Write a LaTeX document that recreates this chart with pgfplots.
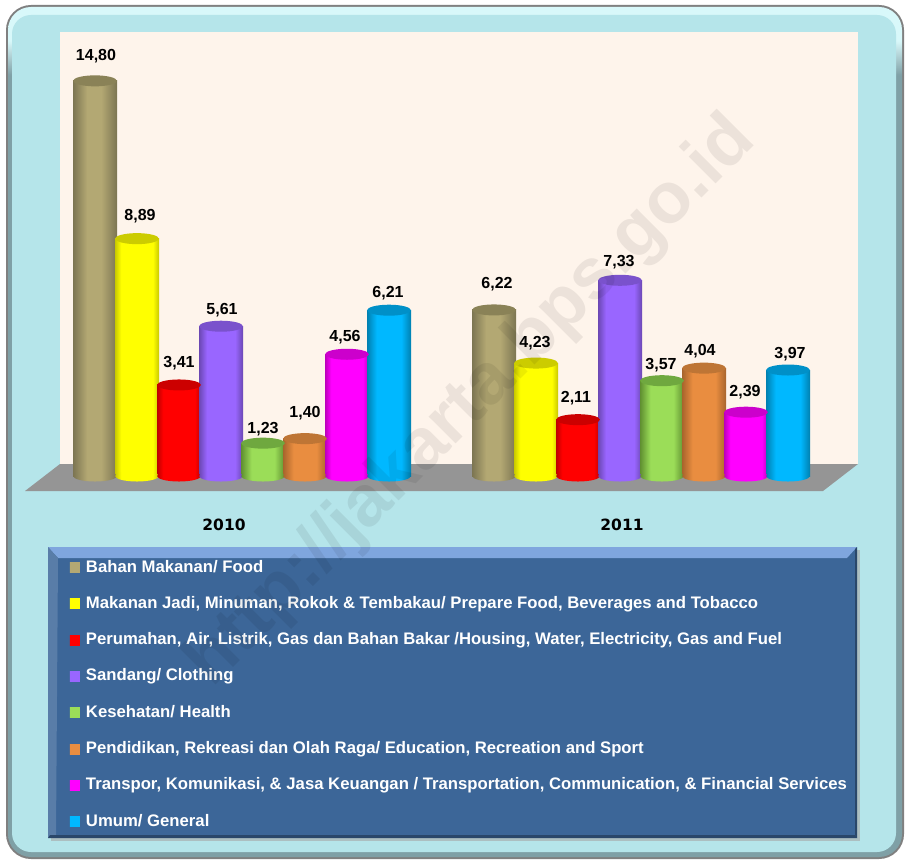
\documentclass[border=0pt]{standalone}
\usepackage{pgfplots}
\pgfplotsset{compat=1.18}
\usepackage{pgfplotstable}
\usepackage{fontspec}
\setmainfont{Liberation Sans}
\newfontfamily\tickfont{DejaVu Sans}
\pgfplotstableread{
x y b dy dx
95 14.80 0 24.8 1
494 6.22 0 26 3
}\tabA
\pgfplotstableread{
x y b dy dx
137 8.89 0 22.6 3
536 4.23 0 20 -1
}\tabB
\pgfplotstableread{
x y b dy dx
179 3.41 0 22 0
578 2.11 0 22 -2
}\tabC
\pgfplotstableread{
x y b dy dx
221 5.61 0 16 1
620 7.33 0 18 -1
}\tabD
\pgfplotstableread{
x y b dy dx
263 1.23 0 14 0
662 3.57 0 16 -1
}\tabE
\pgfplotstableread{
x y b dy dx
305 1.40 0 25.6 0
704 4.04 0 17 -4
}\tabF
\pgfplotstableread{
x y b dy dx
347 4.56 0 17 -2
746 2.39 0 20 -1
}\tabG
\pgfplotstableread{
x y b dy dx
389 6.21 0 17 -1
788 3.97 0 16 2
}\tabH
\newcommand{\defcyl}[6]{%
  \definecolor{cm#1}{HTML}{#2}\definecolor{cd#1}{HTML}{#3}\definecolor{ct#1}{HTML}{#4}%
  \pgfdeclarehorizontalshading{cyl#1}{100bp}{color(0bp)=(cd#1); color(25bp)=(cd#1); color(#5bp)=(cm#1); color(#6bp)=(cm#1); color(75bp)=(cd#1); color(100bp)=(cd#1)}%
  \pgfdeclarehorizontalshading{flat#1}{100bp}{color(0bp)=(cm#1); color(100bp)=(cm#1)}%
  \pgfdeclareplotmark{top#1}{\path[draw=none,fill=ct#1,rotate=4.5] (0pt,0pt) ellipse [x radius=21.9pt,y radius=5.5pt];}%
  \pgfdeclareplotmark{bot#1}{\path[draw=none,shading=cyl#1,rotate=4.5] (0pt,0pt) ellipse [x radius=21.9pt,y radius=5.5pt];}%
}
\defcyl{A}{B3A873}{7C7552}{8A8257}{41}{57}
\defcyl{B}{FFFF00}{C8C800}{CCCC00}{32}{68}
\defcyl{C}{FF0000}{BE0000}{CC0000}{32}{68}
\defcyl{D}{9966FF}{6B47B3}{7A52CC}{34}{66}
\defcyl{E}{9BDD58}{5F8F30}{6FA83F}{37}{63}
\defcyl{F}{E98D40}{A8642C}{BE7535}{37}{63}
\defcyl{G}{FF00FF}{BB00BB}{CC00CC}{32}{68}
\defcyl{H}{00B8FF}{0080B0}{0090C8}{36}{64}
\definecolor{bevd}{HTML}{7FA0A6}
\definecolor{bevl}{HTML}{D8F8FA}
\pgfdeclareverticalshading{bevel}{100bp}{color(0bp)=(bevd); color(71bp)=(bevd); color(73bp)=(bevl); color(100bp)=(bevl)}
\definecolor{panel}{HTML}{B5E5EA}
\definecolor{wall}{HTML}{FEF4EB}
\definecolor{floorc}{HTML}{959595}
\definecolor{lg}{HTML}{3C6698}
\definecolor{lgt}{HTML}{7FA6DE}
\newcommand{\cyl}[3]{%
  \addplot[forget plot,only marks,mark=bot#1] table[x=x,y=b] {#2};
  \addplot[ybar,bar width=44pt,bar shift=0pt,draw=none,shade,shading=cyl#1,restrict x to domain=0:440,
    legend image code/.code={\path[shading=flat#1] (0pt,-5pt) rectangle (10pt,5pt); \path (16pt,0pt);}] table[x=x,y=y] {#2};
  \addlegendentry{#3}
  \addplot[forget plot,ybar,bar width=44pt,bar shift=0pt,draw=none,shade,shading=cyl#1,restrict x to domain=440:905] table[x=x,y=y] {#2};
  \addplot[forget plot,only marks,mark=top#1,
    visualization depends on={\thisrow{dy}\as\dyv},
    visualization depends on={\thisrow{dx}\as\dxv},
    nodes near coords={\pgfmathprintnumber[use comma,fixed,fixed zerofill,precision=2,assume math mode=true]{\pgfplotspointmeta}},
    every node near coord/.style={anchor=center,inner sep=0pt,text=black,font=\fontsize{16}{18}\selectfont\bfseries,xshift=\dxv pt,yshift=\dyv pt}]
    table[x=x,y=y] {#2};
}
\begin{document}
\begin{tikzpicture}
\path[use as bounding box] (0pt,0pt) rectangle (905pt,-861pt);
\begin{scope}[x=1pt,y=-1pt]
  % frame
  \fill[white] (0,0) rectangle (905,861);
  \fill[rounded corners=25pt,fill=black!50] (6,5) rectangle (904,859);
  \path[rounded corners=23pt,shading=bevel] (8,7) rectangle (902,857);
  \fill[rounded corners=19pt,panel] (12,15) rectangle (896,852);
  % wall and floor
  \fill[wall] (60,32) rectangle (858,464);
  \fill[floorc] (60,464) -- (858,464) -- (823,491) -- (25,491) -- cycle;
  % legend panel
  \fill[black!35,opacity=.6] (51,550) rectangle (860,841);
  \fill[lg] (48,547) rectangle (857,838);
  \fill[lgt] (48,547) -- (857,547) -- (847,558) -- (58,558) -- cycle;
  \fill[lg!85!white] (48,547) -- (58,558) -- (56,835) -- (48,838) -- cycle;
  \fill[lg!70!black] (48,838) -- (50,835) -- (855,835) -- (857,838) -- cycle;
  \fill[lg!70!black] (857,547) -- (855,549) -- (855,835) -- (857,838) -- cycle;
\end{scope}
\begin{axis}[
  at={(0pt,-861pt)},anchor=south west,
  scale only axis,width=905pt,height=861pt,
  xmin=0,xmax=905,ymin=-14.419,ymax=17.828,
  clip=false,
  axis line style={draw=none},
  tick style={draw=none},
  ytick=\empty,
  xtick={224,622},
  xticklabels={2010,2011},
  xticklabel style={anchor=center,yshift=336pt,font=\tickfont\fontsize{15.5}{17}\selectfont\bfseries,text=black},
  legend style={at={(70/905,1-560/861)},anchor=north west,draw=none,fill=none,inner sep=0pt,outer sep=0pt,
    row sep=21.3pt,font=\fontsize{16.7}{18}\selectfont\bfseries,text=white,
    nodes={inner sep=0pt,text height=12pt,text depth=3pt}},
  legend cell align=left,
]
\cyl{A}{\tabA}{Bahan Makanan/ Food}
\cyl{B}{\tabB}{Makanan Jadi, Minuman, Rokok \& Tembakau/ Prepare Food, Beverages and Tobacco}
\cyl{C}{\tabC}{Perumahan, Air, Listrik, Gas dan Bahan Bakar /Housing, Water, Electricity, Gas and Fuel}
\cyl{D}{\tabD}{Sandang/ Clothing}
\cyl{E}{\tabE}{Kesehatan/ Health}
\cyl{F}{\tabF}{Pendidikan, Rekreasi dan Olah Raga/ Education, Recreation and Sport}
\cyl{G}{\tabG}{Transpor, Komunikasi, \& Jasa Keuangan / Transportation, Communication, \& Financial Services}
\cyl{H}{\tabH}{Umum/ General}
\end{axis}
\node[rotate=45,opacity=.07,text=black,font=\fontsize{72}{80}\selectfont\bfseries,inner sep=0pt] at (472pt,-402pt) {http://jakarta.bps.go.id};
\end{tikzpicture}
\end{document}
